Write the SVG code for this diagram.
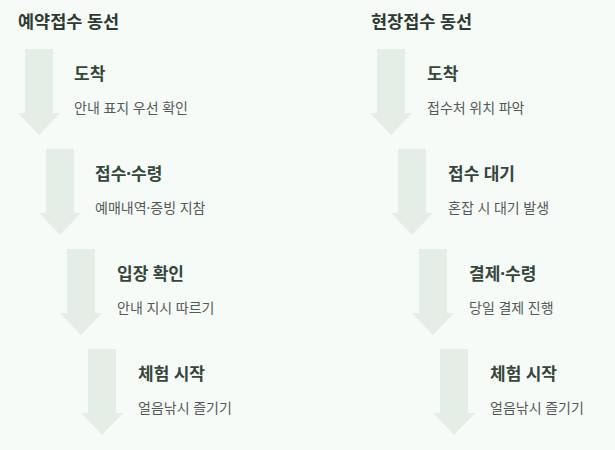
<svg xmlns="http://www.w3.org/2000/svg" width="615" height="450" viewBox="0 0 615 450">
<defs>
<style>
.bg{fill:#f6fbf7}
.arr{fill:#e4eee6}
.hd{font-family:"Noto Sans","Noto Sans CJK KR",sans-serif;font-weight:700;font-size:17.5px;fill:#2f3a33}
.t{font-family:"Noto Sans","Noto Sans CJK KR",sans-serif;font-weight:700;font-size:17px;fill:#35463b}
.d{font-family:"Noto Sans","Noto Sans CJK KR",sans-serif;font-weight:400;font-size:14px;fill:#555a57}
</style>
<path id="a" d="M0 0H28V64H35L14 86L-7 64H0Z"/>
</defs>
<rect class="bg" width="615" height="450"/>
<g id="connectors">
<use href="#a" class="arr" x="25" y="49"/>
<use href="#a" class="arr" x="46" y="149"/>
<use href="#a" class="arr" x="67" y="249"/>
<use href="#a" class="arr" x="88" y="349"/>
<use href="#a" class="arr" x="377" y="49"/>
<use href="#a" class="arr" x="398" y="149"/>
<use href="#a" class="arr" x="419" y="249"/>
<use href="#a" class="arr" x="440" y="349"/>
</g>
<g id="left-title"><text class="hd" x="18" y="28">예약접수 동선</text></g>
<g id="l1"><text class="t" x="74" y="80">도착</text><text class="d" x="74" y="113">안내 표지 우선 확인</text></g>
<g id="l2"><text class="t" x="95" y="180">접수·수령</text><text class="d" x="95" y="213">예매내역·증빙 지참</text></g>
<g id="l3"><text class="t" x="117" y="280">입장 확인</text><text class="d" x="117" y="313">안내 지시 따르기</text></g>
<g id="l4"><text class="t" x="138" y="380">체험 시작</text><text class="d" x="138" y="413">얼음낚시 즐기기</text></g>
<g id="right-title"><text class="hd" x="371" y="28">현장접수 동선</text></g>
<g id="r1"><text class="t" x="427" y="80">도착</text><text class="d" x="427" y="113">접수처 위치 파악</text></g>
<g id="r2"><text class="t" x="448" y="180">접수 대기</text><text class="d" x="448" y="213">혼잡 시 대기 발생</text></g>
<g id="r3"><text class="t" x="469" y="280">결제·수령</text><text class="d" x="469" y="313">당일 결제 진행</text></g>
<g id="r4"><text class="t" x="490" y="380">체험 시작</text><text class="d" x="490" y="413">얼음낚시 즐기기</text></g>
</svg>
